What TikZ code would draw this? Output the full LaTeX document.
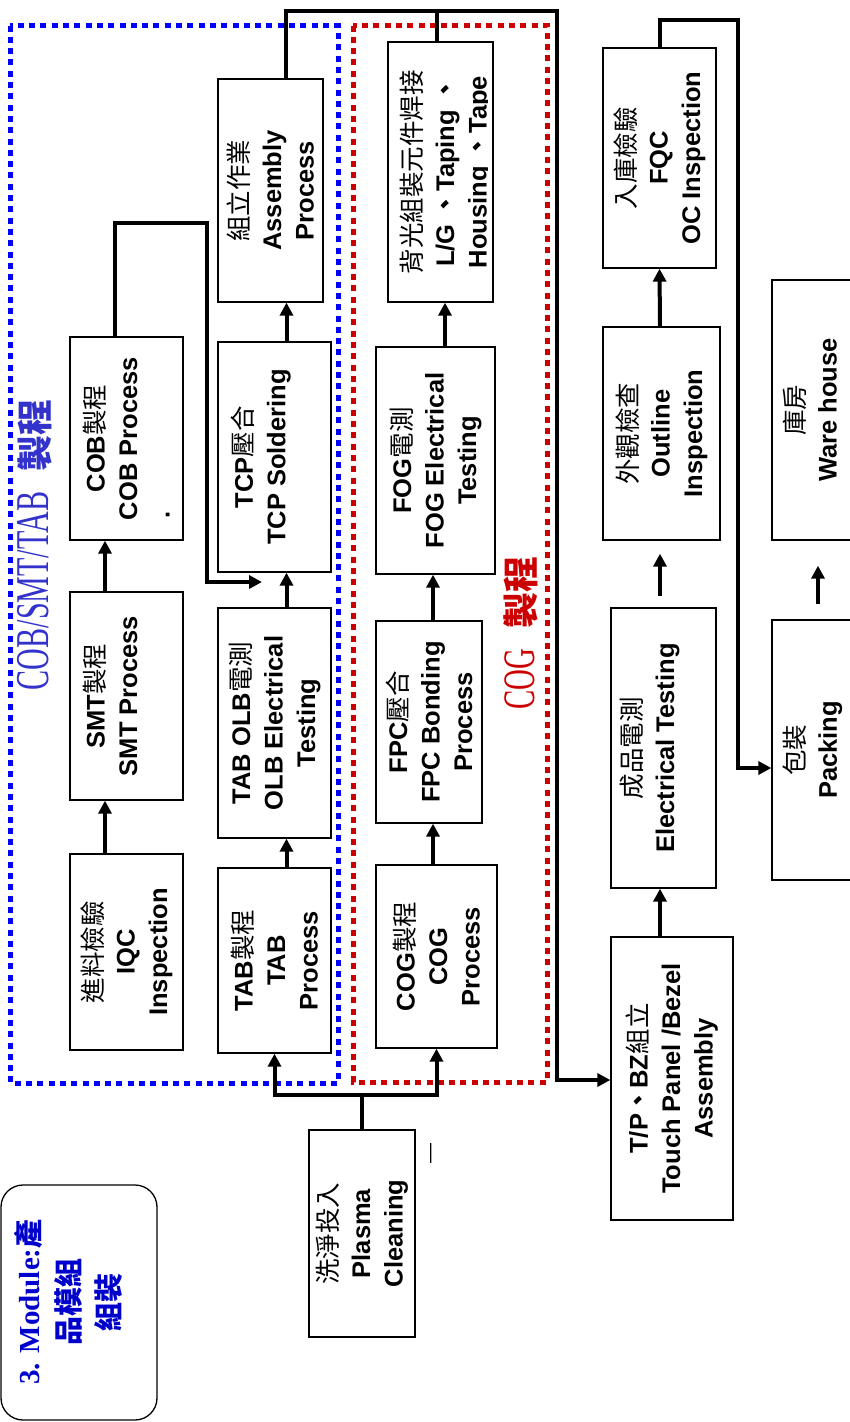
\documentclass[tikz,border=0pt]{standalone}
\usepackage{fontspec}
\setmainfont{Liberation Sans}
\newfontfamily\zhfont{Noto Sans CJK TC}
\newfontfamily\titleserif{Liberation Serif}
\newfontfamily\narrowserif[FakeStretch=0.64]{Liberation Serif}
\usetikzlibrary{arrows.meta}
\definecolor{fl_blue}{RGB}{0, 0, 255}
\definecolor{fl_red}{RGB}{204, 0, 0}
\definecolor{lb_blue}{RGB}{51, 51, 204}
\definecolor{tt_blue}{RGB}{0, 0, 204}
\newcommand{\zh}[1]{{\zhfont\mdseries #1}}
\newcommand{\zhb}[1]{{\zhfont\bfseries #1}}
\tikzstyle{proc}=[draw=black,line width=1.3pt,rotate=90,align=center,
  inner sep=0pt,font=\fontsize{25.5}{32.5}\selectfont\bfseries]
\tikzstyle{proctext}=[rotate=90,align=center,inner sep=0pt,
  font=\fontsize{25.5}{32.5}\selectfont\bfseries]
\tikzstyle{titlebox}=[draw=black,line width=1.3pt,rounded corners=22pt,inner sep=0pt]
\tikzstyle{titletext}=[rotate=90,align=center,inner sep=0pt,text=tt_blue,
  font=\titleserif\fontsize{29}{40}\selectfont\bfseries]
\tikzstyle{grouplabel}=[rotate=90,inner sep=0pt,font=\narrowserif\fontsize{45}{50}\selectfont]
\tikzstyle{flow}=[line width=4pt,-{Triangle[length=13pt,width=13pt]}]
\tikzstyle{flowline}=[line width=4pt]
\tikzstyle{bluedots}=[draw=fl_blue,line width=5pt,dash pattern=on 6pt off 5.3pt]
\tikzstyle{reddots}=[draw=fl_red,line width=5pt,dash pattern=on 6pt off 5.3pt]
\tikzstyle{none}=[]

\begin{document}
\begin{tikzpicture}[x=1pt, y=-1pt]
        \useasboundingbox (0, 0) rectangle (849, 1422);
        \draw [style=bluedots] (10, 25.5) rectangle (338, 1083);
        \draw [style=reddots] (353, 25.5) rectangle (547, 1082);
        \node [style=titlebox, minimum width=156pt, minimum height=235pt] (0) at (79, 1302.5) {};
        \node [style=titletext] (1) at (68, 1302) {3. Module:\zhb{產}\\\zhb{品模組}\\\zhb{組裝}};
        \node [style=proc, minimum width=207pt, minimum height=106pt] (2) at (362, 1233.5) {\zh{洗淨投入}\\Plasma\\Cleaning};
        \node [style=proc, minimum width=196pt, minimum height=113pt] (3) at (126.5, 952) {\zh{進料檢驗}\\IQC\\Inspection};
        \node [style=proc, minimum width=208pt, minimum height=113pt] (4) at (126.5, 696) {SMT\zh{製程}\\SMT Process\\\mbox{}};
        \node [style=proc, minimum width=203pt, minimum height=113pt] (5) at (126.5, 438.5) {COB\zh{製程}\\COB Process\\\hbox to 160pt{.\hfil}};
        \node [style=proc, minimum width=185pt, minimum height=113pt] (6) at (274.5, 960.5) {TAB\zh{製程}\\TAB\\Process};
        \node [style=proc, minimum width=230pt, minimum height=113pt] (7) at (274.5, 723) {TAB OLB\zh{電測}\\OLB Electrical\\Testing};
        \node [style=proc, minimum width=230pt, minimum height=113pt] (8) at (274.5, 457) {TCP\zh{壓合}\\TCP Soldering\\\mbox{}};
        \node [style=proc, minimum width=223pt, minimum height=105pt] (9) at (270.5, 190.5) {\zh{組立作業}\\Assembly\\Process};
        \node [style=proc, minimum width=183pt, minimum height=121pt] (10) at (436.5, 956.5) {COG\zh{製程}\\COG\\Process};
        \node [style=proc, minimum width=202pt, minimum height=106pt] (11) at (429, 722) {FPC\zh{壓合}\\FPC Bonding\\Process};
        \node [style=proc, minimum width=227pt, minimum height=119pt] (12) at (435.5, 460.5) {FOG\zh{電測}\\FOG Electrical\\Testing};
        \node [style=proc, minimum width=260pt, minimum height=105pt] (13) at (440.5, 172) {};
        \begin{scope}
            \clip (388, 42) rectangle (487, 302);
            \node [style=proctext] (14) at (446, 172) {\zh{背光組裝元件焊接}\\L/G \zhb{、}Taping \zhb{、}\\Housing \zhb{、}Tape};
        \end{scope}
        \node [style=proc, minimum width=283pt, minimum height=122pt] (15) at (672, 1078.5) {T/P\zhb{、}BZ\zh{組立}\\Touch Panel /Bezel\\Assembly};
        \node [style=proc, minimum width=280pt, minimum height=105pt] (16) at (663.5, 748) {\zh{成品電測}\\Electrical Testing\\\mbox{}};
        \node [style=proc, minimum width=213pt, minimum height=117pt] (17) at (661.5, 433.5) {\zh{外觀檢查}\\Outline\\Inspection};
        \node [style=proc, minimum width=220pt, minimum height=113pt] (18) at (659.5, 158) {\zh{入庫檢驗}\\FQC\\OC Inspection};
        \node [style=proc, minimum width=260pt, minimum height=108pt] (19) at (826, 750) {\zh{包裝}\\Packing\\\mbox{}};
        \node [style=proc, minimum width=260pt, minimum height=108pt] (20) at (826, 410) {\zh{庫房}\\Ware house\\\mbox{}};
        \node [style=grouplabel, text=lb_blue, font=\narrowserif\fontsize{47}{50}\selectfont] (21) at (35, 545) {COB/SMT/TAB\hspace{20pt}{\fontsize{36}{36}\selectfont\zhb{製程}}};
        \node [style=grouplabel, text=fl_red] (22) at (521, 633) {COG\hspace{20pt}{\fontsize{36}{36}\selectfont\zhb{製程}}};
        \node [rotate=90, inner sep=0pt, font=\fontsize{20}{20}\selectfont] (23) at (433, 1153) {—};
        \node [style=none] (24) at (274.5, 1095) {};
        \node [style=none] (25) at (436.5, 1095) {};
        \node [style=none] (26) at (207, 223) {};
        \node [style=none] (27) at (207, 582) {};
        \node [style=none] (28) at (262, 582) {};
        \node [style=none] (29) at (557, 11) {};
        \node [style=none] (30) at (557, 1080) {};
        \node [style=none] (31) at (738, 20) {};
        \node [style=none] (32) at (738, 768) {};
        \draw [style=flow] (2.east) |- (24.center) -- (6.west);
        \draw [style=flow] (2.east) |- (25.center) -- (10.west);
        \draw [style=flow] ([xshift=-21.5pt]3.east) -- ([xshift=-21.5pt]4.west);
        \draw [style=flow] ([xshift=-21.5pt]4.east) -- ([xshift=-21.5pt]5.west);
        \draw [style=flow] ([xshift=-11.5pt]5.east) |- (26.center) -- (27.center) -- (28.center);
        \draw [style=flow] ([xshift=12pt]6.east) -- ([xshift=12pt]7.west);
        \draw [style=flow] ([xshift=12pt]7.east) -- ([xshift=12pt]8.west);
        \draw [style=flow] ([xshift=12pt]8.east) -- ([xshift=16pt]9.west);
        \draw [style=flow] ([xshift=15pt]9.east) |- (29.center) -- (30.center) -- (30.center -| 15.north);
        \draw [style=flowline] ([xshift=-3.5pt]13.east) -- ([xshift=-3.5pt]13.east |- 29.center);
        \draw [style=flow] ([xshift=-3.5pt]10.east) -- ([xshift=4pt]11.west);
        \draw [style=flow] ([xshift=4pt]11.east) -- ([xshift=-2.5pt]12.west);
        \draw [style=flow] ([xshift=9.5pt]12.east) -- ([xshift=4.5pt]13.west);
        \draw [style=flow] ([xshift=-12pt]15.east) -- ([xshift=-3.5pt]16.west);
        \draw [style=flow, shorten <=11pt, shorten >=13pt] ([xshift=-3.5pt]16.east) -- ([xshift=-1.5pt]17.west);
        \draw [style=flow] ([xshift=-1.5pt]17.east) -- (18.west);
        \draw [style=flow] (18.east) |- (31.center) -- (32.center) -- (32.center -| 19.north);
        \draw [style=flow, shorten <=15pt, shorten >=25pt] ([xshift=-8pt]19.east) -- ([xshift=-8pt]20.west);
    \end{tikzpicture}
\end{document}
